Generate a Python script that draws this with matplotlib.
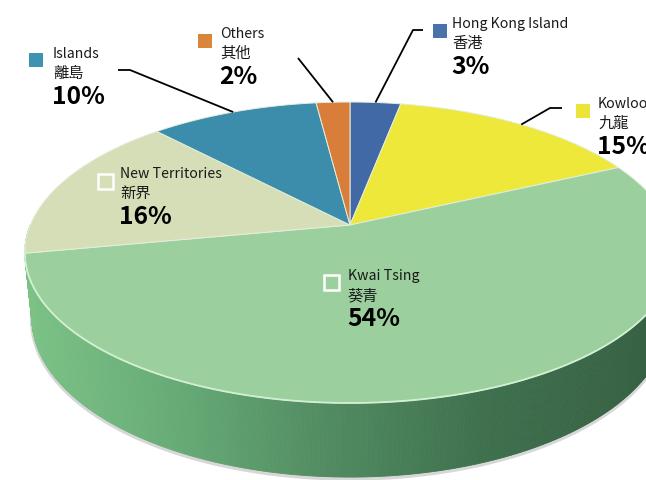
import numpy as np
import matplotlib
matplotlib.use("Agg")
import matplotlib.pyplot as plt
from matplotlib.patches import Polygon, Rectangle
from matplotlib.colors import LinearSegmentedColormap

plt.rcParams["font.family"] = ["Noto Sans CJK TC", "DejaVu Sans"]

# share of each district, clockwise from 12 o'clock
names_en = ["Hong Kong Island", "Kowloon", "Kwai Tsing", "New Territories", "Islands", "Others"]
names_zh = ["香港", "九龍", "葵青", "新界", "離島", "其他"]
shares = [3, 15, 54, 16, 10, 2]
face_colors = ["#4169a5", "#ede83a", "#9bd09e", "#d6deb8", "#3c8cab", "#d97d3a"]
key_colors = ["#4a72ab", "#ede43a", None, None, "#3e93b0", "#d9853c"]

# label block: (key square left, key square top, text left, first baseline)
label_pos = {
    "Hong Kong Island": (433, 24, 452, 28),
    "Kowloon": (576, 104, 598, 108),
    "Kwai Tsing": (323, 274, 348, 280),
    "New Territories": (97, 173, 120, 178),
    "Islands": (29, 53, 53, 58),
    "Others": (198, 34, 220, 38),
}
# leader line elbows (label side)
leaders = {
    "Hong Kong Island": [(423, 30), (413, 30)],
    "Kowloon": [(562, 108), (550, 108)],
    "Islands": [(118, 70), (130, 70)],
    "Others": [(298, 58)],
}

# perspective view of a flat cylinder
CX, CY = 350.0, 225.0
S, C = 0.455, 0.890
D, F = 4.87, 1557.0
H = 0.232


def project(phi, y3=0.0):
    X = np.sin(phi)
    Z = -np.cos(phi)
    u = y3 * C - Z * S
    depth = D - (y3 * S + Z * C)
    return CX + F * X / depth, CY - F * u / depth


fig = plt.figure(figsize=(6.46, 4.8), dpi=100)
ax = fig.add_axes([0, 0, 1, 1])
ax.set_xlim(0, 646)
ax.set_ylim(480, 0)
ax.axis("off")

# soft shadow under the wall
ph = np.linspace(np.pi / 2, 3 * np.pi / 2, 300)
bx, by = project(ph, -H)
ax.plot(bx, by + 1.5, color="#a8a8a8", lw=3, alpha=0.45, solid_capstyle="round", zorder=1)

# side wall, shaded left to right
side_cmap = LinearSegmentedColormap.from_list(
    "wall",
    [(0.0, "#7dc387"), (0.27, "#64a874"), (0.48, "#528c61"), (0.74, "#3e704e"), (1.0, "#376143")],
)
n = 240
right = np.linspace(np.pi / 2, np.pi, n)
left = np.linspace(3 * np.pi / 2, np.pi, n)
for seq in (right, left):
    for a, b in zip(seq[:-1], seq[1:]):
        tx, ty = project(np.array([a, b]))
        lx, ly = project(np.array([b, a]), -H)
        xs = np.concatenate([tx, lx])
        ys = np.concatenate([ty, ly])
        col = side_cmap(np.clip((xs.mean() - 25) / 621, 0, 1))
        ax.add_patch(Polygon(np.column_stack([xs, ys]), closed=True,
                             facecolor=col, edgecolor=col, lw=0.6, zorder=2))

# top face wedges
bounds = np.concatenate([[0], np.cumsum(shares)]) / sum(shares) * 2 * np.pi
mids = {}
for name, col, a0, a1 in zip(names_en, face_colors, bounds[:-1], bounds[1:]):
    t = np.linspace(a0, a1, 200)
    rx, ry = project(t)
    pts = np.column_stack([np.concatenate([[CX], rx]), np.concatenate([[CY], ry])])
    ax.add_patch(Polygon(pts, closed=True, facecolor=col, edgecolor="#e4eedc",
                         lw=0.7, zorder=3))
    mids[name] = project((a0 + a1) / 2)

# light rim along the front edge
rim = np.linspace(np.deg2rad(98), np.deg2rad(262), 300)
rx, ry = project(rim)
ax.plot(rx, ry, color="#d2efd2", lw=1.3, zorder=4)

# leader lines
for name, pts in leaders.items():
    xs = [p[0] for p in pts] + [mids[name][0]]
    ys = [p[1] for p in pts] + [mids[name][1]]
    ax.plot(xs, ys, color="black", lw=1.3, zorder=5, solid_capstyle="butt")

# labels
for name, zh, share, kc in zip(names_en, names_zh, shares, key_colors):
    kx, ky, tx, ty = label_pos[name]
    if kc is None:
        ax.add_patch(Rectangle((kx + 1, ky + 1), 15, 15, facecolor="none",
                               edgecolor="white", lw=1.8, zorder=6))
    else:
        ax.add_patch(Rectangle((kx, ky), 14, 14, facecolor=kc, edgecolor="none", zorder=6))
    ax.text(tx, ty, name, fontsize=10.2, color="#1a1a1a", va="baseline", ha="left", zorder=7)
    ax.text(tx, ty + 20, zh, fontsize=11, color="#1a1a1a", va="baseline", ha="left", zorder=7)
    ax.text(tx - 1, ty + 46, f"{share}%", fontsize=17.8, fontweight="bold", color="black",
            va="baseline", ha="left", zorder=7)

fig.savefig("out.png", dpi=100)
